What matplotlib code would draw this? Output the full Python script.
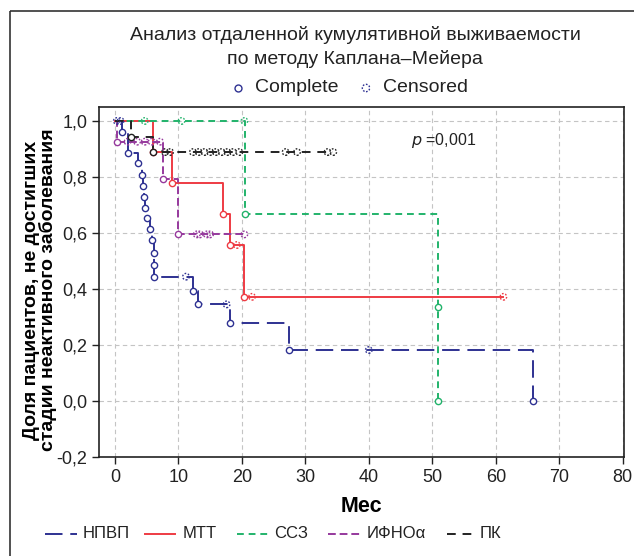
import matplotlib
matplotlib.use("Agg")

import matplotlib.pyplot as plt
from matplotlib.patches import Rectangle

plt.rcParams["font.family"] = ["Liberation Sans", "DejaVu Sans"]

# Kaplan-Meier curves: event times / survival after event, censored times
npvp_t = [1.2, 2.1, 3.6, 4.2, 4.4, 4.6, 4.8, 5.0, 5.6, 5.9, 6.2, 6.2, 6.2, 12.3, 13.1, 18.2, 27.5, 65.8]
npvp_s = [0.96, 0.885, 0.85, 0.807, 0.768, 0.73, 0.69, 0.652, 0.613, 0.575, 0.528, 0.486, 0.444,
          0.394, 0.345, 0.277, 0.182, 0.0]
npvp_c = [0.3, 0.9, 11.2, 17.6, 40.0]

mtt_t = [6.0, 9.05, 17.1, 18.1, 20.4]
mtt_s = [0.889, 0.777, 0.668, 0.557, 0.372]
mtt_c = [19.2, 21.6, 61.2]

ssz_t = [20.5, 50.9, 50.9]
ssz_s = [0.667, 0.335, 0.0]
ssz_c = [4.7, 10.5, 20.4]

ifno_t = [0.4, 7.6, 10.0]
ifno_s = [0.926, 0.793, 0.595]
ifno_c = [2.0, 3.5, 4.7, 5.8, 7.1, 12.9, 13.4, 14.5, 15.0, 20.4]

pk_t = [2.5, 6.0]
pk_s = [0.944, 0.889]
pk_c = [7.9, 8.7, 12.3, 13.2, 14.1, 15.0, 15.9, 16.8, 17.7, 18.6, 19.6, 26.9, 28.7, 33.5, 34.4]

groups = ["НПВП", "МТТ", "ССЗ", "ИФНОα", "ПК"]
colors = ["#2e3192", "#ee3b43", "#22b36b", "#96399d", "#222222"]
styles = [(0, (9, 4)), "-", (0, (3.5, 2.5)), (0, (4, 2)), (0, (4.5, 3.5))]

curves = [(npvp_t, npvp_s, npvp_c), (mtt_t, mtt_s, mtt_c), (ssz_t, ssz_s, ssz_c),
          (ifno_t, ifno_s, ifno_c), (pk_t, pk_s, pk_c)]

CENS_LS = (0, (1.2, 1.2))


def steps(t, s, c):
    xs, ys = [0.0], [1.0]
    cur = 1.0
    for ti, si in zip(t, s):
        xs += [ti, ti]
        ys += [cur, si]
        cur = si
    end = max(t + c)
    if end > xs[-1]:
        xs.append(end)
        ys.append(cur)
    return xs, ys


def level(t, s, x):
    cur = 1.0
    for ti, si in zip(t, s):
        if ti <= x:
            cur = si
    return cur


fig = plt.figure(figsize=(6.34, 5.56), dpi=100)
ax = fig.add_axes([99 / 634, 1 - 457 / 556, 525 / 634, 350 / 556])

for (t, s, c), col, ls in zip(curves, colors, styles):
    xs, ys = steps(t, s, c)
    ax.plot(xs, ys, color=col, linestyle=ls, linewidth=1.4, zorder=3)
    ax.plot(t, s, "o", color=col, mfc="white", ms=4.5, mew=1.0, linestyle="none", zorder=4)
    ax.scatter(c, [level(t, s, x) for x in c], s=22, facecolors="none", edgecolors=col,
               linewidths=1.0, linestyles=CENS_LS, zorder=4)

ax.set_xlim(-2.5, 80.2)
ax.set_ylim(-0.2, 1.05)
ax.set_xticks(range(0, 90, 10))
yt = [-0.2, 0.0, 0.2, 0.4, 0.6, 0.8, 1.0]
ax.set_yticks(yt)
ax.set_yticklabels([f"{v:.1f}".replace(".", ",") for v in yt])
ax.tick_params(labelsize=13, length=5, width=1, direction="out", colors="#222222")
ax.grid(True, color="#c4c4c4", linestyle=(0, (4, 3)), linewidth=0.8)
for sp in ax.spines.values():
    sp.set_linewidth(1.2)
    sp.set_color("#222222")

ax.text(46.7, 0.93, "$p$ =0,001", fontsize=11.5, color="#222222", ha="left", va="center")

ax.set_xlabel("Мес", fontsize=15.5, fontweight="bold", labelpad=7)
fig.text(40 / 634, 1 - 290 / 556, "Доля пациентов, не достигших\nстадии неактивного заболевания",
         rotation=90, ha="center", va="center", fontsize=14, fontweight="bold",
         linespacing=0.9, multialignment="center")

# overlay in pixel coordinates for titles, legends and frame
ov = fig.add_axes([0, 0, 1, 1], zorder=-1)
ov.set_xlim(0, 634)
ov.set_ylim(556, 0)
ov.axis("off")

ov.text(355, 35, "Анализ отдаленной кумулятивной выживаемости", fontsize=14,
        ha="center", va="center", color="#222222")
ov.text(355, 59, "по методу Каплана–Мейера", fontsize=14, ha="center", va="center", color="#222222")

ov.plot([238], [88], "o", color=colors[0], mfc="none", ms=5, mew=1)
ov.text(255, 88, "Complete", fontsize=14, ha="left", va="center", color="#222222")
ov.scatter([366], [88], s=28, facecolors="none", edgecolors=colors[0], linewidths=1.0, linestyles=CENS_LS)
ov.text(383, 88, "Censored", fontsize=14, ha="left", va="center", color="#222222")

hx0 = [45, 145, 237, 328, 447]
hx1 = [77, 175, 268, 360, 472]
tx = [83, 183, 274, 367, 480]
for g, col, ls, a, b, x in zip(groups, colors, styles, hx0, hx1, tx):
    ov.plot([a, b], [534, 534], color=col, linestyle=ls, linewidth=1.4)
    ov.text(x, 534, g, fontsize=12, ha="left", va="center", color="#222222")

ov.add_patch(Rectangle((10, 11), 700, 700, fill=False, edgecolor="#333333", linewidth=1.2))

plt.savefig("out.png", dpi=100)
